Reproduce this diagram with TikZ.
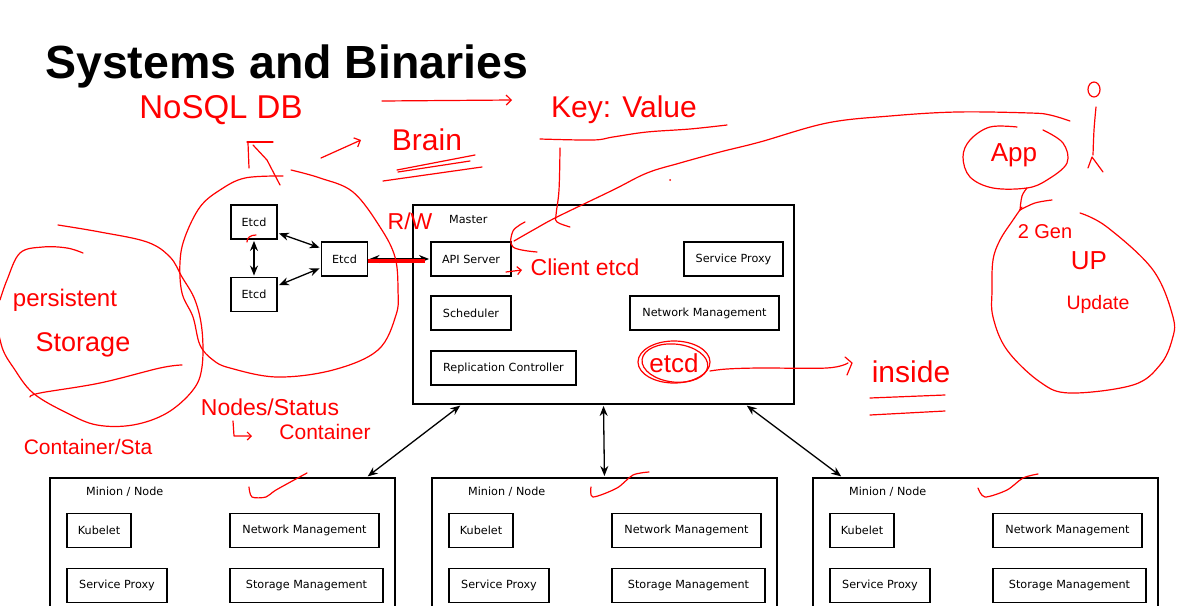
\documentclass[tikz,border=0pt]{standalone}
\usepackage{fontspec}
\usepackage{tikz}
\usetikzlibrary{arrows.meta}
\newfontfamily\boxfont{DejaVu Sans}
\newfontfamily\titlefont{Liberation Sans}
\newfontfamily\handfont{Liberation Sans}
\tikzstyle{compbox} = [draw=black, line width=1.9pt, rectangle,
    minimum height=34pt, inner sep=0pt, font=\boxfont\fontsize{11.2}{13}\selectfont]
\tikzstyle{groupbox} = [draw=black, line width=1.9pt, rectangle, inner sep=0pt]
\tikzstyle{grouptitle} = [anchor=west, inner sep=0pt, font=\boxfont\fontsize{11.2}{13}\selectfont]
\tikzstyle{link} = [black, line width=1.3pt, shorten <=1pt, shorten >=1pt,
    {Stealth[length=10pt,width=8pt]}-{Stealth[length=10pt,width=8pt]}]
\tikzstyle{ink} = [red, line width=1.2pt, line cap=round, line join=round]
\tikzstyle{scrawl} = [text=red, inner sep=0pt]

\begin{document}
\begin{tikzpicture}[x=1pt, y=-1pt]
\useasboundingbox (0,0) rectangle (1190,605);
\clip (0,0) rectangle (1190,605);

% title
\node[anchor=base west, inner sep=0pt, font=\titlefont\bfseries\fontsize{46.5}{50}\selectfont] (title) at (45,78) {Systems and Binaries};

% etcd cluster
\node[compbox, minimum width=46pt] (etcd1) at (254,222) {Etcd};
\node[compbox, minimum width=46pt] (etcd2) at (344.5,259) {Etcd};
\node[compbox, minimum width=46pt] (etcd3) at (254,294.5) {Etcd};

% master
\node[groupbox, minimum width=381pt, minimum height=199pt] (master) at (603.5,304.5) {};
\node[grouptitle] (mastertitle) at (449,219) {Master};
\node[compbox, minimum width=80pt] (api) at (471,259) {API Server};
\node[compbox, minimum width=99pt] (mproxy) at (733.5,259) {Service Proxy};
\node[compbox, minimum width=80pt] (sched) at (471,313) {Scheduler};
\node[compbox, minimum width=149pt] (mnet) at (704.5,313) {Network Management};
\node[compbox, minimum width=145pt] (repl) at (503.5,368) {Replication Controller};

% minions
\foreach \x/\n in {49/1, 431/2, 812/3} {
  \node[groupbox, anchor=north west, minimum width=345pt, minimum height=170pt] (node\n) at (\x,477) {};
  \node[grouptitle] (nodetitle\n) at (\x+37,492) {Minion / Node};
  \node[compbox, minimum width=64pt] (kubelet\n) at (\x+50,530.5) {Kubelet};
  \node[compbox, minimum width=149pt] (nnet\n) at (\x+255.5,530.5) {Network Management};
  \node[compbox, minimum width=100pt] (nproxy\n) at (\x+68,585.5) {Service Proxy};
  \node[compbox, minimum width=153pt] (nstore\n) at (\x+257.5,585.5) {Storage Management};
}

% links
\draw[link] (etcd1.south) -- (etcd3.north);
\draw[link] ([yshift=-11pt]etcd1.east) -- ([yshift=11pt]etcd2.west);
\draw[link] ([yshift=9pt]etcd3.east) -- ([yshift=-9pt]etcd2.west);
\draw[link] (etcd2) -- (api);
\draw[link] ([xshift=49pt]master.south west) -- ([xshift=-29pt]node1.north east);
\draw[link] (master.south) -- (node2.north);
\draw[link] ([xshift=-49pt]master.south east) -- ([xshift=30pt]node3.north west);

% red notes
\draw[red, line width=4pt] ([yshift=-2pt]etcd2.east) -- ([xshift=-5pt, yshift=-2pt]api.west);

\node[scrawl, font=\handfont\fontsize{33}{36}\selectfont] (nosql) at (221,110) {NoSQL DB};
\draw[ink] (247,142) -- (273,142);
\draw[ink] (248,143) -- (249,168);
\draw[ink] (253,145) -- (267,160) -- (280,185);
\draw[ink] plot[smooth, tension=0.6] coordinates {(291,170) (320,178) (353,192) (380,227) (395,257) (398,290) (396,315) (378,350) (333,370) (277,377) (230,368) (213,360) (200,345) (193,317) (182,293) (180,262) (185,237) (200,207) (220,190) (245,178) (283,176)};
\draw[ink] (256,235) .. controls (250,235) and (247,238) .. (247,242);

\draw[ink, -{Straight Barb[length=5pt]}] (321,158) -- (361,140);
\draw[ink, -{Straight Barb[length=5pt]}] (382,101) -- (512,100);
\node[scrawl, font=\handfont\fontsize{30}{34}\selectfont] (brain) at (427,140) {Brain};
\draw[ink] (397,170) -- (475,155);
\draw[ink] (383,181) -- (482,167);
\draw[ink] (398,172) -- (470,161);

\node[scrawl, font=\handfont\fontsize{30}{34}\selectfont] (keyvalue) at (624,110) {Key: Value};
\draw[ink] plot[smooth, tension=0.6] coordinates {(540,139) (593,140) (613,137) (647,132) (690,129) (727,125)};
\draw[ink] plot[smooth, tension=0.6] coordinates {(560,148) (559,190) (556,215) (557,222) (570,227)};
\draw[ink] plot[smooth, tension=0.6] coordinates {(525,222) (513,231) (513,247) (537,252)};
\draw[ink] plot[smooth, tension=0.6] coordinates {(514,241) (535,229) (557,217) (613,190) (647,173) (680,163) (720,152) (760,142) (827,123) (890,116) (957,112) (1030,113) (1050,115) (1070,121)};
\fill[red] (670,180) circle (1pt);

\node[scrawl, font=\handfont\fontsize{23}{26}\selectfont] (rw) at (410,221) {R/W};
\draw[ink, -{Straight Barb[length=4pt]}] (506,272) -- (522,270);
\node[scrawl, font=\handfont\fontsize{23}{26}\selectfont] (client) at (585,267) {Client etcd};

% app and user
\node[scrawl, font=\handfont\fontsize{26}{30}\selectfont] (app) at (1014,155) {App};
\draw[ink] plot[smooth, tension=0.6] coordinates {(1017,127) (990,127) (970,140) (963,157) (970,177) (993,188) (1027,188) (1047,180) (1067,163) (1063,143) (1043,130)};
\draw[ink] plot[smooth, tension=0.6] coordinates {(1027,188) (1022,196) (1020,210)};
\draw[ink] plot[smooth, tension=0.6] coordinates {(1020,210) (1035,203) (1052,200)};
\draw[ink] (1094,89.5) ellipse [x radius=6, y radius=7.5];
\draw[ink] plot[smooth, tension=0.6] coordinates {(1096,107) (1094,130) (1093,155)};
\draw[ink] (1088,168) -- (1092,157) -- (1103,172);
\draw[ink] plot[smooth, tension=0.6] coordinates {(1022,207) (1013,220) (1000,240) (993,260) (992,290) (993,317) (1007,350) (1040,382) (1070,393) (1133,385) (1160,365) (1172,340) (1173,317) (1153,270) (1107,227) (1080,213)};
\node[scrawl, font=\handfont\fontsize{20}{24}\selectfont] (gen) at (1045,232) {2 Gen};
\node[scrawl, font=\handfont\fontsize{26}{30}\selectfont] (up) at (1089,261) {UP};
\node[scrawl, font=\handfont\fontsize{19.5}{23}\selectfont] (update) at (1098,304) {Update};

% storage side
\draw[ink] plot[smooth, tension=0.6] coordinates {(58,225) (100,232) (147,242) (170,257) (182,277) (195,300) (202,330) (202,367) (193,390) (167,413) (133,425) (97,425) (67,413) (33,393) (13,367) (3,350) (-2,330)};
\draw[ink] plot[smooth, tension=0.6] coordinates {(83,253) (67,248) (43,247) (20,253) (7,280) (0,300)};
\draw[ink] plot[smooth, tension=0.6] coordinates {(30,397) (40,393) (100,383) (160,368) (182,365)};
\node[scrawl, font=\handfont\fontsize{24}{28}\selectfont] (persist) at (65,300) {persistent};
\node[scrawl, font=\handfont\fontsize{27}{30}\selectfont] (storage) at (83,345) {Storage};
\node[scrawl, font=\handfont\fontsize{21}{24}\selectfont] (contsta) at (88,447) {Container/Sta};

\node[scrawl, font=\handfont\fontsize{23}{26}\selectfont] (status) at (270,407) {Nodes/Status};
\draw[ink, -{Straight Barb[length=4pt]}] (233,421) -- (234,436) -- (252,436);
\node[scrawl, font=\handfont\fontsize{21}{24}\selectfont] (container) at (325,432) {Container};

% etcd inside
\node[scrawl, font=\handfont\fontsize{26}{30}\selectfont] (etcdnote) at (674,363) {etcd};
\draw[ink] (674,362) ellipse [x radius=36, y radius=21];
\draw[ink, rotate around={-6:(674,362)}] (675,363) ellipse [x radius=33, y radius=19];
\draw[ink] plot[smooth, tension=0.6] coordinates {(710,371) (727,369) (760,368) (827,368) (848,363)};
\draw[ink] (845,357) -- (852,363) -- (847,375);
\node[scrawl, font=\handfont\fontsize{30}{34}\selectfont] (inside) at (911,372) {inside};
\draw[ink] (870,398) -- (945,395);
\draw[ink] (870,415) -- (945,411);

% ticks on minions
\draw[ink] plot[smooth, tension=0.5] coordinates {(249,487) (252,497) (266,497) (276,490) (307,473)};
\draw[ink] plot[smooth, tension=0.5] coordinates {(591,487) (593,497) (617,488) (633,475) (649,472)};
\draw[ink] plot[smooth, tension=0.5] coordinates {(978,488) (985,497) (1007,490) (1023,478) (1038,474)};
\end{tikzpicture}
\end{document}
